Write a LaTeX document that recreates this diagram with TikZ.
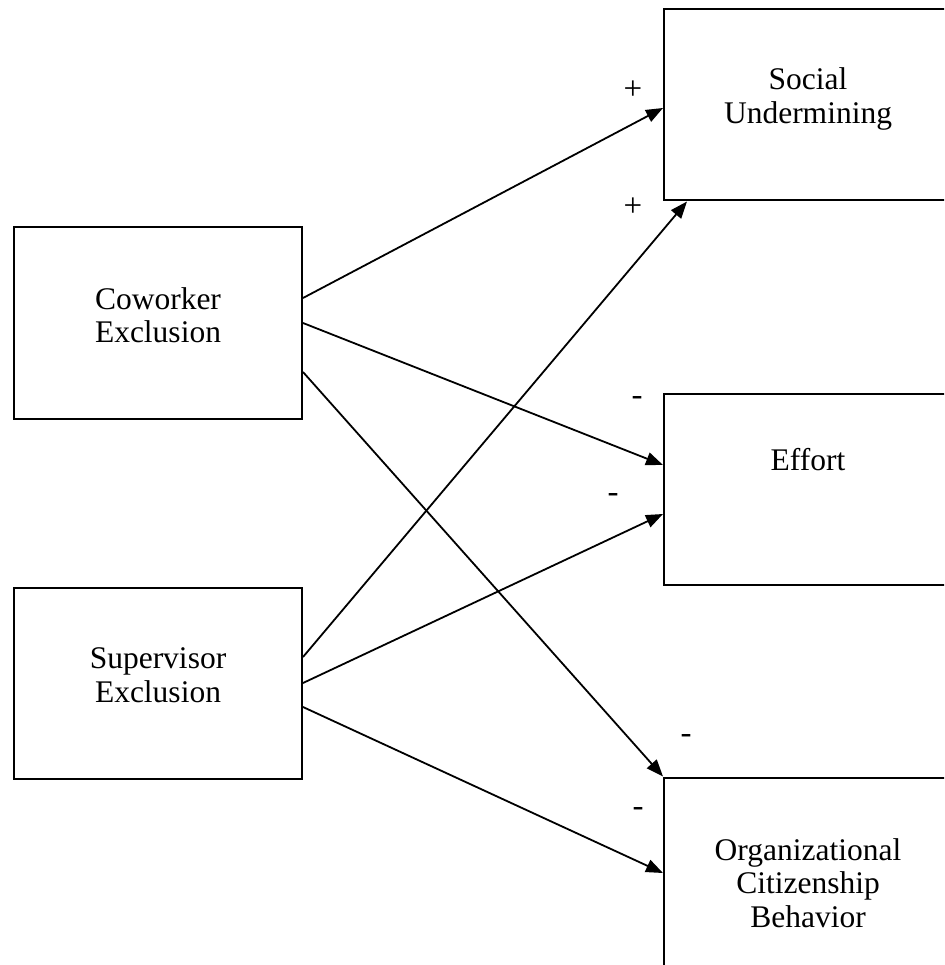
\documentclass[tikz,border=0pt]{standalone}
\usepackage{fontspec}
\setmainfont{Liberation Serif}
\usetikzlibrary{arrows.meta}
\begin{document}
\begin{tikzpicture}[x=1pt,y=-1pt,
  box/.style={draw,line width=2pt,minimum width=288pt,minimum height=191pt,inner sep=0pt},
  txt/.style={align=center,font=\fontsize{31.5}{33.5}\selectfont},
  sign/.style={font=\fontsize{33}{33.5}\selectfont,inner sep=0pt},
  conn/.style={line width=1.8pt,-{Triangle[length=17pt,width=13pt]}}]
\useasboundingbox (0,0) rectangle (944,965);
\clip (0,0) rectangle (944,965);
\fill[white] (0,0) rectangle (944,965);
% boxes
\node[box] (cw) at (158,323) {};
\node[box] (sv) at (158,683) {};
\node[box] (su) at (808,105) {};
\node[box] (ef) at (808,489) {};
\node[box] (ocb) at (808,873) {};
% texts
\node[txt] (cwt) at (158,315) {Coworker\\Exclusion};
\node[txt] (svt) at (158,675) {Supervisor\\Exclusion};
\node[txt] (sut) at (808,99) {Social\\Undermining};
\node[txt] (eft) at (808,460) {Effort};
\node[txt] (ocbt) at (808,883) {Organizational\\Citizenship\\Behavior};
% connectors
\draw[conn] ([yshift=25pt]cw.east) -- ([yshift=-3pt]su.west);
\draw[conn] ([yshift=26pt]sv.east) -- ([xshift=24pt]su.south west);
\draw[conn] (cw.east) -- ([yshift=24pt]ef.west);
\draw[conn] (sv.east) -- ([yshift=-25pt]ef.west);
\draw[conn] ([yshift=-49pt]cw.east) -- (ocb.north west);
\draw[conn] ([yshift=-24pt]sv.east) -- (ocb.west);
% signs
\node[sign] (s1) at (633,90) {+};
\node[sign] (s2) at (633,207) {+};
\node[sign] (s3) at (637,401) {-};
\node[sign] (s4) at (613,498) {-};
\node[sign] (s5) at (686,739) {-};
\node[sign] (s6) at (638,812) {-};
\end{tikzpicture}
\end{document}
